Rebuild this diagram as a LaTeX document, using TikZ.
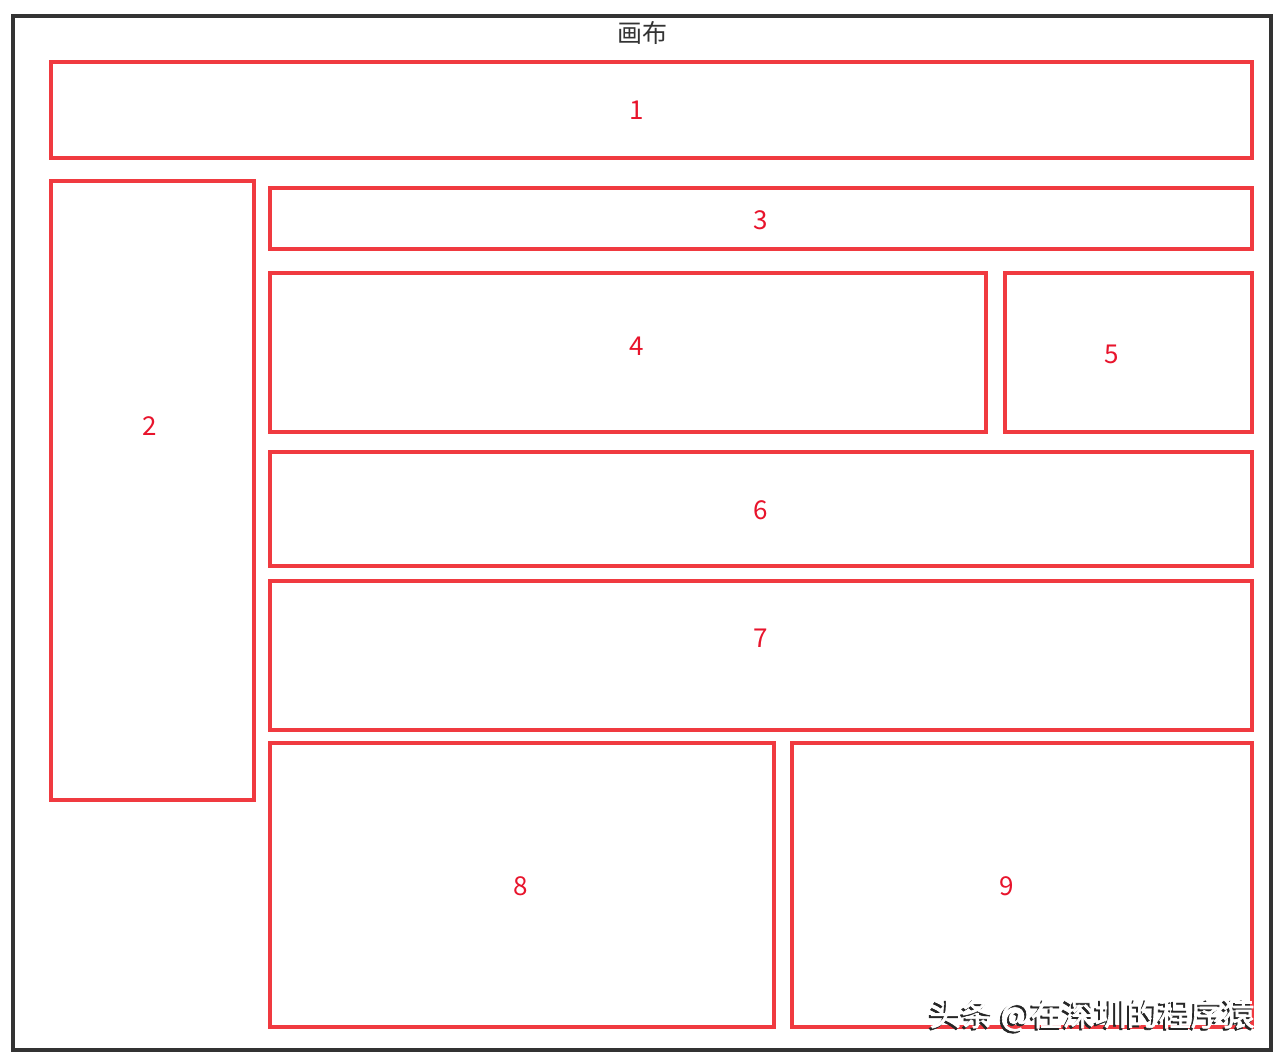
\documentclass[tikz,border=0pt]{standalone}
\usepackage{fontspec}
\setmainfont{Noto Sans CJK SC}
\newfontfamily\wmfont[FakeBold=2]{Noto Sans CJK SC}
\definecolor{frame}{HTML}{333333}
\definecolor{boxred}{HTML}{F03A40}
\definecolor{numred}{HTML}{E8142C}
\begin{document}
\begin{tikzpicture}[x=1pt,y=-1pt,
  pbox/.style={draw=boxred,line width=3.4pt},
  lbl/.style={text=numred,font=\fontsize{26}{26}\selectfont,inner sep=0pt},
  wmark/.style={font=\wmfont\fontsize{32}{32}\selectfont,inner sep=0pt}]
\useasboundingbox[fill=white] (0,0) rectangle (1288,1060);
\draw[draw=frame,line width=3.6pt] (13,16) rectangle (1271,1050);
\node[inner sep=0pt,text=frame,font=\fontsize{25}{25}\selectfont] (title) at (642,33) {画布};
% boxes
\draw[pbox] (51,62) rectangle (1252,158);
\draw[pbox] (51,181) rectangle (254,800);
\draw[pbox] (270,188) rectangle (1252,249);
\draw[pbox] (270,273) rectangle (986,432);
\draw[pbox] (1005,273) rectangle (1252,432);
\draw[pbox] (270,452) rectangle (1252,566);
\draw[pbox] (270,581) rectangle (1252,730);
\draw[pbox] (270,743) rectangle (774,1027);
\draw[pbox] (792,743) rectangle (1252,1027);
% labels
\node[lbl] (l1) at (637,110) {1};
\node[lbl] (l2) at (150,426) {2};
\node[lbl] (l3) at (761,220) {3};
\node[lbl] (l4) at (637,346) {4};
\node[lbl] (l5) at (1112,354) {5};
\node[lbl] (l6) at (761,510) {6};
\node[lbl] (l7) at (761,638) {7};
\node[lbl] (l8) at (521,886) {8};
\node[lbl] (l9) at (1007,886) {9};
% watermark
\node[wmark,text=black!85] (wms) at (1090,1017) {头条 @在深圳的程序猿};
\node[wmark,text=white] (wm) at (1092,1015) {头条 @在深圳的程序猿};
\end{tikzpicture}
\end{document}
